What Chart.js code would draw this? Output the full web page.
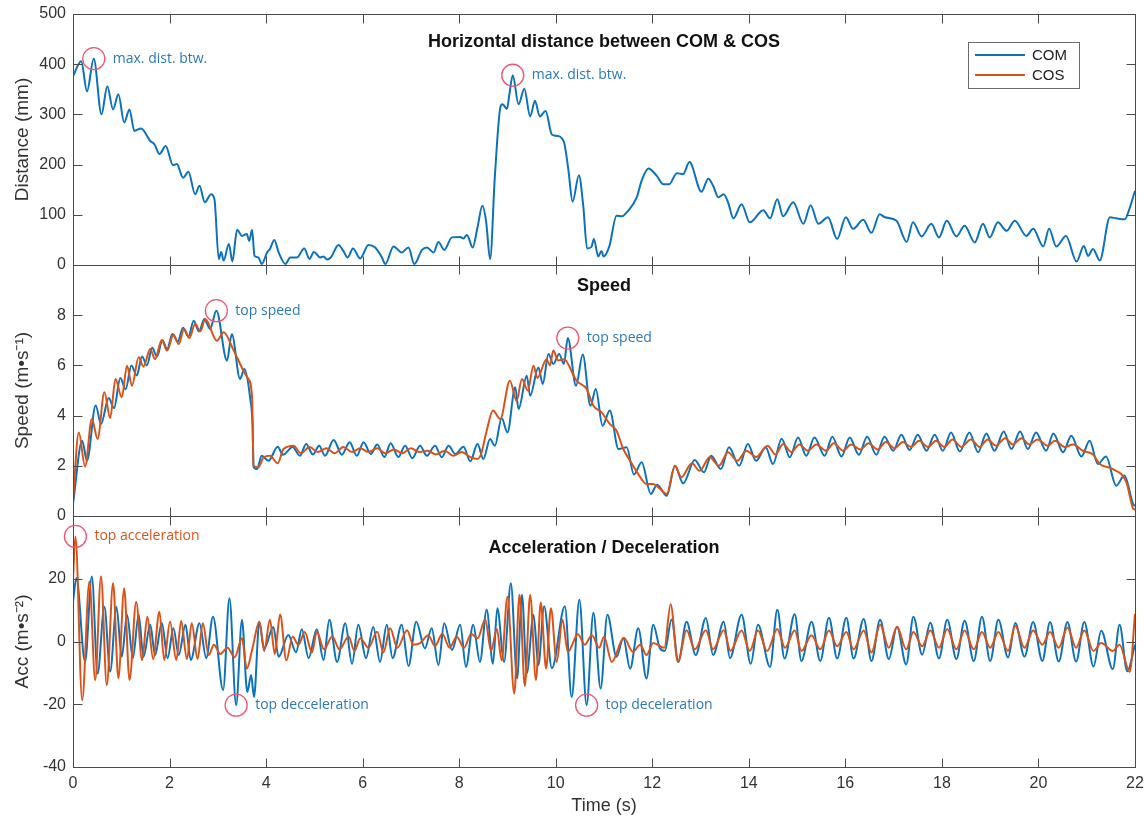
<!DOCTYPE html>
<html>
<head>
<meta charset="utf-8">
<title>Horizontal distance between COM &amp; COS</title>
<script src="https://cdn.jsdelivr.net/npm/chart.js@4.4.1/dist/chart.umd.min.js"></script>
<style>
  html, body { margin: 0; padding: 0; background: #ffffff; }
  canvas { display: block; }
</style>
</head>
<body>
<canvas id="myChart" width="1148" height="821"></canvas>
<script>
// Tick values for every axis
var timeTicks = [0, 2, 4, 6, 8, 10, 12, 14, 16, 18, 20, 22];
var distTicks = [0, 100, 200, 300, 400, 500];
var speedTicks = [0, 2, 4, 6, 8];
var accTicks = [-40, -20, 0, 20];

// Horizontal distance COM - COS, [time s, mm]
var comDist = [
  [0, 376], [0.17, 406], [0.29, 346], [0.43, 411], [0.59, 300], [0.71, 356], [0.83, 310], [0.94, 340],
  [1.06, 284], [1.17, 310], [1.27, 267], [1.41, 272], [1.60, 247], [1.69, 240], [1.79, 221], [1.92, 237],
  [2.07, 199], [2.15, 201], [2.28, 174], [2.39, 186], [2.53, 141], [2.62, 158], [2.73, 125], [2.86, 141],
  [2.93, 131], [3.02, 12], [3.07, 26], [3.12, 9], [3.23, 42], [3.30, 7], [3.40, 70], [3.50, 58],
  [3.60, 62], [3.65, 48], [3.71, 70], [3.76, 18], [3.84, 15], [3.91, 2], [4.02, 25], [4.08, 32],
  [4.17, 50], [4.26, 25], [4.40, 2], [4.50, 15], [4.64, 15], [4.79, 33], [4.90, 12], [4.99, 26],
  [5.12, 15], [5.19, 17], [5.26, 11], [5.34, 15], [5.50, 40], [5.60, 28], [5.69, 15], [5.80, 33],
  [5.95, 13], [6.12, 40], [6.26, 35], [6.40, 15], [6.47, 2], [6.64, 37], [6.81, 25], [6.95, 35],
  [7.07, 2], [7.23, 30], [7.33, 35], [7.47, 25], [7.57, 46], [7.69, 30], [7.85, 55], [8.02, 56],
  [8.09, 53], [8.16, 60], [8.28, 35], [8.38, 75], [8.48, 118], [8.56, 85], [8.64, 12], [8.74, 178],
  [8.86, 317], [8.90, 320], [8.99, 311], [9.04, 340], [9.11, 378], [9.23, 320], [9.35, 351], [9.47, 296],
  [9.57, 327], [9.67, 296], [9.79, 307], [9.92, 260], [10.03, 257], [10.17, 245], [10.26, 191], [10.35, 126],
  [10.48, 179], [10.57, 118], [10.65, 33], [10.74, 36], [10.79, 52], [10.88, 17], [10.95, 28], [10.99, 17],
  [11.11, 37], [11.26, 98], [11.37, 97], [11.50, 108], [11.68, 135], [11.78, 168], [11.92, 192], [12.09, 178],
  [12.23, 161], [12.35, 161], [12.51, 183], [12.64, 181], [12.77, 205], [13.02, 146], [13.16, 172], [13.26, 158],
  [13.37, 135], [13.48, 141], [13.57, 125], [13.68, 93], [13.85, 121], [14.02, 85], [14.30, 109], [14.44, 93],
  [14.59, 131], [14.71, 97], [14.92, 125], [15.13, 82], [15.28, 119], [15.44, 82], [15.64, 95], [15.83, 52],
  [16.01, 95], [16.16, 72], [16.37, 90], [16.54, 64], [16.71, 101], [16.82, 95], [17.06, 88], [17.27, 46],
  [17.40, 85], [17.58, 57], [17.78, 82], [17.94, 55], [18.10, 88], [18.30, 57], [18.47, 78], [18.68, 45],
  [18.85, 82], [18.99, 55], [19.16, 85], [19.34, 68], [19.51, 88], [19.75, 58], [19.89, 72], [20.10, 37],
  [20.22, 72], [20.37, 37], [20.57, 58], [20.79, 7], [20.94, 38], [21.03, 18], [21.13, 32], [21.27, 9],
  [21.48, 95], [21.61, 93], [21.79, 91], [21.86, 105], [22.0, 148]
];

// Speed, [time s, m/s]
var comSpeed = [
  [0, 0.48], [0.19, 3.0], [0.29, 2.2], [0.47, 4.4], [0.58, 3.67], [0.74, 4.7], [0.85, 4.3], [0.98, 5.5],
  [1.09, 5.05], [1.21, 6.0], [1.32, 5.6], [1.43, 6.35], [1.53, 6.0], [1.64, 6.7], [1.74, 6.35], [1.85, 7.0],
  [1.95, 6.65], [2.06, 7.25], [2.17, 6.95], [2.28, 7.5], [2.39, 7.15], [2.50, 7.78], [2.61, 7.35], [2.72, 7.85],
  [2.84, 7.45], [2.97, 8.18], [3.19, 6.19], [3.29, 7.25], [3.46, 5.46], [3.55, 5.86], [3.67, 4.7], [3.72, 3.6],
  [3.74, 1.95], [3.81, 1.87], [3.91, 2.4], [4.05, 2.2], [4.24, 2.76], [4.35, 2.44], [4.55, 2.75], [4.70, 2.4],
  [4.83, 2.87], [4.97, 2.45], [5.10, 2.8], [5.22, 2.4], [5.40, 3.03], [5.57, 2.44], [5.73, 2.94], [5.88, 2.40],
  [6.02, 2.94], [6.17, 2.47], [6.30, 2.85], [6.45, 2.35], [6.58, 2.9], [6.74, 2.35], [6.88, 2.8], [7.03, 2.3],
  [7.19, 2.8], [7.33, 2.40], [7.50, 2.80], [7.64, 2.34], [7.78, 2.80], [7.92, 2.47], [8.09, 2.76], [8.23, 2.18],
  [8.38, 2.87], [8.50, 2.27], [8.64, 3.07], [8.74, 2.80], [8.88, 3.9], [9.00, 3.33], [9.16, 5.13], [9.23, 4.26],
  [9.40, 5.59], [9.47, 4.79], [9.64, 5.92], [9.73, 5.26], [9.85, 6.45], [9.95, 6.06], [10.07, 6.45], [10.17, 6.06],
  [10.25, 7.09], [10.42, 5.19], [10.56, 6.43], [10.72, 4.39], [10.83, 5.06], [10.97, 3.60], [11.12, 4.20], [11.30, 2.67],
  [11.47, 2.74], [11.62, 1.65], [11.78, 2.14], [11.97, 0.88], [12.10, 1.25], [12.30, 0.81], [12.47, 2.0], [12.64, 1.30],
  [12.88, 2.23], [13.07, 1.74], [13.22, 2.40], [13.42, 1.87], [13.59, 2.74], [13.80, 2.0], [13.98, 2.87], [14.15, 2.20],
  [14.35, 2.74], [14.50, 2.07], [14.68, 3.08], [14.85, 2.34], [15.02, 3.13], [15.19, 2.40], [15.36, 3.13], [15.57, 2.40],
  [15.73, 3.16], [15.92, 2.37], [16.09, 3.13], [16.28, 2.44], [16.45, 3.16], [16.64, 2.44], [16.81, 3.16], [16.99, 2.60],
  [17.16, 3.24], [17.33, 2.63], [17.50, 3.24], [17.68, 2.60], [17.85, 3.24], [18.02, 2.60], [18.19, 3.33], [18.37, 2.57],
  [18.57, 3.33], [18.75, 2.54], [18.92, 3.29], [19.09, 2.60], [19.28, 3.37], [19.44, 2.67], [19.62, 3.37], [19.78, 2.67],
  [19.95, 3.33], [20.16, 2.60], [20.31, 3.29], [20.51, 2.54], [20.68, 3.20], [20.89, 2.37], [21.06, 3.0], [21.23, 2.07],
  [21.40, 2.37], [21.61, 1.21], [21.78, 1.61], [21.96, 0.48], [22.0, 0.4]
];

var cosSpeed = [
  [0, 0.6], [0.12, 3.33], [0.25, 1.97], [0.39, 3.86], [0.51, 3.07], [0.65, 4.93], [0.77, 3.9], [0.88, 5.46],
  [1.01, 4.73], [1.12, 5.99], [1.22, 5.19], [1.36, 6.32], [1.46, 5.95], [1.60, 6.65], [1.70, 6.25], [1.84, 7.01],
  [1.95, 6.59], [2.08, 7.22], [2.19, 6.85], [2.30, 7.45], [2.41, 7.09], [2.53, 7.65], [2.64, 7.36], [2.74, 7.85],
  [2.98, 6.98], [3.12, 7.32], [3.33, 6.59], [3.53, 5.79], [3.62, 5.5], [3.71, 4.73], [3.74, 2.0], [3.84, 1.94],
  [3.95, 2.34], [4.08, 2.40], [4.24, 2.1], [4.36, 2.67], [4.57, 2.8], [4.72, 2.5], [4.90, 2.75], [5.07, 2.55],
  [5.25, 2.7], [5.42, 2.5], [5.60, 2.75], [5.78, 2.55], [5.95, 2.7], [6.12, 2.55], [6.30, 2.7], [6.47, 2.5],
  [6.65, 2.65], [6.82, 2.5], [7.00, 2.7], [7.17, 2.55], [7.35, 2.6], [7.52, 2.45], [7.70, 2.6], [7.88, 2.4],
  [8.05, 2.55], [8.23, 2.35], [8.37, 2.27], [8.45, 2.45], [8.57, 3.40], [8.70, 4.20], [8.85, 3.86], [9.05, 5.39],
  [9.19, 4.59], [9.30, 5.46], [9.42, 5.0], [9.54, 5.99], [9.62, 5.5], [9.81, 6.25], [9.88, 6.0], [9.95, 6.59],
  [10.05, 6.2], [10.17, 6.25], [10.43, 5.39], [10.64, 5.06], [10.78, 4.39], [10.95, 4.13], [11.12, 3.67], [11.26, 3.40],
  [11.40, 2.67], [11.54, 2.20], [11.71, 1.67], [11.88, 1.27], [12.02, 1.27], [12.15, 1.1], [12.30, 0.88], [12.47, 2.0],
  [12.60, 1.54], [12.82, 2.10], [12.98, 1.8], [13.19, 2.34], [13.38, 2.0], [13.57, 2.54], [13.76, 2.2], [13.95, 2.60],
  [14.15, 2.35], [14.39, 2.80], [14.55, 2.45], [14.71, 2.87], [14.88, 2.55], [15.05, 2.85], [15.22, 2.6], [15.40, 2.85],
  [15.60, 2.6], [15.76, 2.9], [15.95, 2.6], [16.12, 2.85], [16.31, 2.65], [16.48, 2.9], [16.67, 2.65], [16.84, 2.95],
  [17.02, 2.7], [17.19, 2.95], [17.36, 2.75], [17.53, 3.0], [17.71, 2.75], [17.88, 3.0], [18.05, 2.75], [18.22, 3.05],
  [18.40, 2.75], [18.60, 3.05], [18.78, 2.75], [18.95, 3.05], [19.12, 2.8], [19.31, 3.1], [19.47, 2.85], [19.65, 3.1],
  [19.81, 2.85], [19.98, 3.05], [20.19, 2.8], [20.34, 3.0], [20.54, 2.75], [20.72, 2.85], [20.92, 2.6], [21.13, 2.45],
  [21.27, 2.07], [21.54, 1.87], [21.82, 1.35], [21.96, 0.3], [22.0, 0.25]
];

// Acceleration, [time s, m/s^2]
var comAcc = [
  [0, 12.7], [0.07, 20.2], [0.25, -6.5], [0.39, 20.7], [0.51, -10.2], [0.65, 11.1], [0.77, -9.6], [0.90, 11.1],
  [1.01, -4.9], [1.12, 8.5], [1.24, -5.3], [1.36, 8.5], [1.46, -4.9], [1.60, 5.3], [1.70, -4.3], [1.84, 5.9],
  [1.96, -5.3], [2.08, 4.2], [2.19, -4.3], [2.33, 5.3], [2.44, -5.9], [2.62, 5.8], [2.76, -5.3], [2.90, 7.9],
  [3.11, -15.5], [3.24, 13.8], [3.38, -20.3], [3.50, 6.9], [3.61, -16.1], [3.69, -10.7], [3.75, -17.7], [3.86, 6.3],
  [3.96, -2.2], [4.15, 4.6], [4.26, -4.9], [4.46, 2.1], [4.62, -3.4], [4.74, 3.9], [4.88, -5.3], [5.05, 3.9],
  [5.19, -5.9], [5.31, 6.9], [5.47, -6.5], [5.64, 5.8], [5.78, -7.1], [5.91, 5.3], [6.07, -5.3], [6.22, 4.6],
  [6.36, -6.5], [6.50, 5.3], [6.62, -5.3], [6.81, 5.3], [6.95, -7.8], [7.11, 6.3], [7.29, -2.2], [7.43, 4.2],
  [7.57, -7.5], [7.69, 5.8], [7.85, -2.7], [8.02, 5.3], [8.14, -8.1], [8.29, 5.3], [8.43, -6.5], [8.57, 10.1],
  [8.70, -7.1], [8.79, 10.6], [8.93, -6.5], [9.07, 18.6], [9.20, -11.8], [9.30, 14.9], [9.40, -10.1], [9.54, 8.5],
  [9.64, -7.5], [9.76, 11.2], [9.92, -8.5], [10.19, 11.2], [10.33, -17.7], [10.49, 13.3], [10.64, -20.3], [10.78, 9.2],
  [10.93, -15.0], [11.07, 8.5], [11.26, -4.9], [11.40, 1.0], [11.54, -8.6], [11.71, 4.2], [11.88, -11.8], [12.02, 5.3],
  [12.16, -2.2], [12.26, -3.0], [12.40, 7.0], [12.54, -6.5], [12.71, 6.3], [12.90, -4.3], [13.11, 7.5], [13.26, -4.3],
  [13.48, 6.3], [13.61, -5.3], [13.85, 8.5], [14.04, -7.1], [14.19, 5.3], [14.44, -8.1], [14.59, 10.1], [14.74, -5.4],
  [14.95, 8.7], [15.09, -6.2], [15.30, 6.3], [15.48, -6.2], [15.66, 7.6], [15.83, -5.4], [16.02, 7.6], [16.17, -5.4],
  [16.38, 7.2], [16.54, -6.2], [16.72, 6.9], [16.90, -5.6], [17.07, 4.7], [17.26, -7.3], [17.41, 7.9], [17.59, -4.2],
  [17.76, 6.0], [17.94, -5.4], [18.11, 6.9], [18.30, -5.6], [18.47, 6.6], [18.66, -6.2], [18.83, 7.9], [19.00, -6.2],
  [19.17, 6.9], [19.37, -5.1], [19.52, 5.9], [19.71, -4.8], [19.89, 6.2], [20.08, -6.2], [20.24, 6.2], [20.42, -6.4],
  [20.60, 6.2], [20.78, -6.4], [20.95, 6.2], [21.14, -8.0], [21.30, 3.4], [21.54, -8.8], [21.68, 5.3], [21.84, -9.5],
  [22.0, -1.0]
];

var cosAcc = [
  [0, 20], [0.05, 33.5], [0.19, -18.7], [0.34, 19.1], [0.46, -12.3], [0.58, 20.7], [0.70, -13.9], [0.83, 18.6],
  [0.94, -11.7], [1.06, 17.0], [1.17, -12.3], [1.31, 12.7], [1.43, -5.9], [1.54, 7.9], [1.66, -5.6], [1.79, 9.5],
  [1.89, -5.9], [2.01, 6.3], [2.14, -5.9], [2.24, 6.5], [2.36, -5.6], [2.46, 5.8], [2.58, -5.6], [2.69, 5.8],
  [2.81, -4.3], [2.92, -1], [3.05, -4], [3.20, -2], [3.35, -5], [3.50, 1.0], [3.60, -8.6], [3.72, -2],
  [3.86, 6.3], [3.96, -3], [4.08, 6.9], [4.18, -4], [4.29, 8.6], [4.42, -6], [4.55, 1.5], [4.67, -1],
  [4.80, 3.0], [4.95, -3.5], [5.05, 3.1], [5.20, -2.5], [5.37, 1.6], [5.52, -2.5], [5.71, 1.6], [5.83, -3],
  [5.95, 1.0], [6.12, -2], [6.30, 3.1], [6.43, -3.5], [6.57, 4.2], [6.72, -2], [6.92, 3.6], [7.05, -1],
  [7.19, -0.5], [7.36, 2], [7.50, -1.5], [7.65, 2.5], [7.80, -2], [7.95, 1.5], [8.10, -2], [8.25, 2.5],
  [8.38, 1], [8.54, 7], [8.66, -3], [8.78, 4], [8.88, -6], [9.00, 14.3], [9.14, -16.6], [9.25, 14.9],
  [9.36, -14.3], [9.47, 14.9], [9.59, -12.3], [9.69, 12.4], [9.80, -8.6], [9.90, 10.6], [10.02, -6.5], [10.14, 6.9],
  [10.25, -3.3], [10.46, 2.3], [10.60, -1], [10.75, 2], [10.90, -2], [11.00, 1.5], [11.16, -6.5], [11.41, 1.2],
  [11.60, -3.3], [11.75, -1], [11.88, -4.3], [12.02, -0.5], [12.25, -2], [12.38, 11.9], [12.53, -6.5], [12.71, 3.6],
  [12.88, -2.5], [13.11, 3.6], [13.26, -2.5], [13.48, 3.6], [13.62, -3], [13.85, 3.5], [14.02, -3], [14.19, 3.5],
  [14.38, -3], [14.59, 4], [14.75, -2], [14.95, 3.5], [15.09, -3], [15.30, 2], [15.48, -2.5], [15.66, 3.5],
  [15.83, -1.5], [16.02, 3], [16.17, -2.5], [16.38, 3.5], [16.54, -3.5], [16.72, 5.3], [16.90, -2], [17.07, 4.7],
  [17.26, -2.5], [17.41, 3], [17.59, -1.5], [17.76, 3.5], [17.94, -2], [18.11, 4], [18.30, -2.5], [18.47, 3.5],
  [18.66, -2.5], [18.83, 3], [19.00, -2], [19.17, 3], [19.37, -3], [19.52, 5], [19.71, -2], [19.89, 3.5],
  [20.08, -1], [20.24, 3], [20.42, -2], [20.60, 4.5], [20.78, -2], [20.95, 3.5], [21.14, -3], [21.30, -0.5],
  [21.54, -3], [21.68, -1], [21.89, -9.7], [22.0, 8.8]
];

// Marked extremes: axis, time, value, text, series
var noteAxis = ["yDist", "yDist", "ySpeed", "ySpeed", "yAcc", "yAcc", "yAcc"];
var noteTime = [0.43, 9.11, 2.97, 10.25, 0.05, 3.38, 10.64];
var noteValue = [411, 378, 8.18, 7.09, 33.5, -20.3, -20.3];
var noteText = ["max. dist. btw.", "max. dist. btw.", "top speed", "top speed", "top acceleration", "top decceleration", "top deceleration"];
var noteSeries = ["COM", "COM", "COM", "COM", "COS", "COM", "COM"];

var COM_COLOR = "#0b72bb";
var COS_COLOR = "#d95319";
var AXIS_COLOR = "#4a4a4a";
var TEXT_COLOR = "#333333";
var FONT = "'Liberation Sans', Arial, Helvetica, sans-serif";

function toPoints(pairs) {
  return pairs.map(function (p) {
    return { x: p[0], y: p[1] };
  });
}

function fixedTicks(values) {
  return function (scale) {
    scale.ticks = values.map(function (v) {
      return { value: v };
    });
  };
}

function seriesLine(label, pairs, axis, color, order) {
  return {
    label: label,
    data: toPoints(pairs),
    yAxisID: axis,
    borderColor: color,
    backgroundColor: color,
    borderWidth: 2,
    pointRadius: 0,
    cubicInterpolationMode: "monotone",
    fill: false,
    order: order,
  };
}

function yAxis(min, max, ticks, title) {
  return {
    type: "linear",
    position: "left",
    stack: "panels",
    stackWeight: 1,
    min: min,
    max: max,
    afterBuildTicks: fixedTicks(ticks),
    afterFit: function (scale) {
      scale.width = 73;
      scale.paddingTop = 0;
      scale.paddingBottom = 0;
    },
    grid: { display: false, drawTicks: false },
    border: { display: false },
    ticks: { color: TEXT_COLOR, font: { family: FONT, size: 16, lineHeight: 1.1 }, padding: 7 },
    title: {
      display: true,
      text: title,
      color: TEXT_COLOR,
      font: { family: FONT, size: 19 },
      padding: { top: 11, bottom: 0 },
    },
  };
}

// Panel boxes with inward ticks, panel titles, notes and legend
var panelFrame = {
  id: "panelFrame",
  afterDatasetsDraw: function (chart) {
    var ctx = chart.ctx;
    var area = chart.chartArea;
    var xs = chart.scales.x;
    var tickLen = 9;
    ctx.save();
    ctx.strokeStyle = AXIS_COLOR;
    ctx.lineWidth = 1;
    ["yDist", "ySpeed", "yAcc"].forEach(function (id) {
      var s = chart.scales[id];
      var top = Math.round(s.top) + 0.5;
      var bottom = Math.round(s.bottom) + 0.5;
      var left = Math.round(area.left) + 0.5;
      var right = Math.round(area.right) + 0.5;
      ctx.strokeRect(left, top, right - left, bottom - top);
      ctx.beginPath();
      s.ticks.forEach(function (t) {
        var y = Math.round(s.getPixelForValue(t.value)) + 0.5;
        ctx.moveTo(left, y);
        ctx.lineTo(left + tickLen, y);
        ctx.moveTo(right, y);
        ctx.lineTo(right - tickLen, y);
      });
      xs.ticks.forEach(function (t) {
        var x = Math.round(xs.getPixelForValue(t.value)) + 0.5;
        ctx.moveTo(x, top);
        ctx.lineTo(x, top + tickLen);
        ctx.moveTo(x, bottom);
        ctx.lineTo(x, bottom - tickLen);
      });
      ctx.stroke();
    });

    // panel titles
    var mid = (area.left + area.right) / 2;
    ctx.fillStyle = "#111111";
    ctx.font = "bold 18px " + FONT;
    ctx.textAlign = "center";
    ctx.textBaseline = "middle";
    ctx.fillText("Horizontal distance between COM & COS", mid, chart.scales.yDist.top + 28);
    ctx.fillText("Speed", mid, chart.scales.ySpeed.top + 21);
    ctx.fillText("Acceleration / Deceleration", mid, chart.scales.yAcc.top + 32);

    // marked extremes
    ctx.font = "14px 'Open Sans', " + FONT;
    ctx.textAlign = "left";
    for (var i = 0; i < noteText.length; i++) {
      var cx = xs.getPixelForValue(noteTime[i]);
      var cy = chart.scales[noteAxis[i]].getPixelForValue(noteValue[i]);
      ctx.strokeStyle = "#ec5673";
      ctx.lineWidth = 1.3;
      ctx.beginPath();
      ctx.arc(cx, cy, 11, 0, Math.PI * 2);
      ctx.stroke();
      ctx.fillStyle = noteSeries[i] === "COS" ? COS_COLOR : "#2a7ab9";
      ctx.fillText(noteText[i], cx + 19, cy);
    }

    // legend
    var lx = area.right - 167;
    var ly = chart.scales.yDist.top + 28;
    ctx.fillStyle = "#ffffff";
    ctx.fillRect(lx, ly, 111, 46);
    ctx.strokeStyle = "#6a6a6a";
    ctx.lineWidth = 1;
    ctx.strokeRect(Math.round(lx) + 0.5, Math.round(ly) + 0.5, 111, 46);
    ctx.font = "15px " + FONT;
    ctx.fillStyle = "#222222";
    [["COM", COM_COLOR], ["COS", COS_COLOR]].forEach(function (item, k) {
      var y = ly + 13 + k * 20;
      ctx.strokeStyle = item[1];
      ctx.lineWidth = 2;
      ctx.beginPath();
      ctx.moveTo(lx + 7, y);
      ctx.lineTo(lx + 57, y);
      ctx.stroke();
      ctx.fillText(item[0], lx + 64, y + 1);
    });
    ctx.restore();
  },
};

var ctx = document.getElementById("myChart").getContext("2d");
var myChart = new Chart(ctx, {
  type: "line",
  data: {
    datasets: [
      seriesLine("COM", comDist, "yDist", COM_COLOR, 1),
      seriesLine("COM", comSpeed, "ySpeed", COM_COLOR, 1),
      seriesLine("COS", cosSpeed, "ySpeed", COS_COLOR, 0),
      seriesLine("COM", comAcc, "yAcc", COM_COLOR, 1),
      seriesLine("COS", cosAcc, "yAcc", COS_COLOR, 0),
    ],
  },
  options: {
    responsive: false,
    animation: false,
    layout: { padding: { top: 14, right: 13, bottom: 0, left: 0 } },
    scales: {
      x: {
        type: "linear",
        min: 0,
        max: 22,
        afterBuildTicks: fixedTicks(timeTicks),
        afterFit: function (scale) {
          scale.height = 54;
          scale.paddingLeft = 0;
          scale.paddingRight = 0;
        },
        grid: { display: false, drawTicks: false },
        border: { display: false },
        ticks: { color: TEXT_COLOR, font: { family: FONT, size: 16 }, padding: 7, autoSkip: false, maxRotation: 0 },
        title: {
          display: true,
          text: "Time (s)",
          color: TEXT_COLOR,
          font: { family: FONT, size: 18 },
          padding: { top: 2, bottom: 4 },
        },
      },
      // later stacked axes sit higher, so the acceleration panel comes first
      yAcc: yAxis(-40, 40, accTicks, "Acc (m\u2022s\u207B\u00B2)"),
      ySpeed: yAxis(0, 10, speedTicks, "Speed (m\u2022s\u207B\u00B9)"),
      yDist: yAxis(0, 500, distTicks, "Distance (mm)"),
    },
    plugins: {
      legend: { display: false },
      tooltip: { enabled: false },
    },
  },
  plugins: [panelFrame],
});
</script>
</body>
</html>
